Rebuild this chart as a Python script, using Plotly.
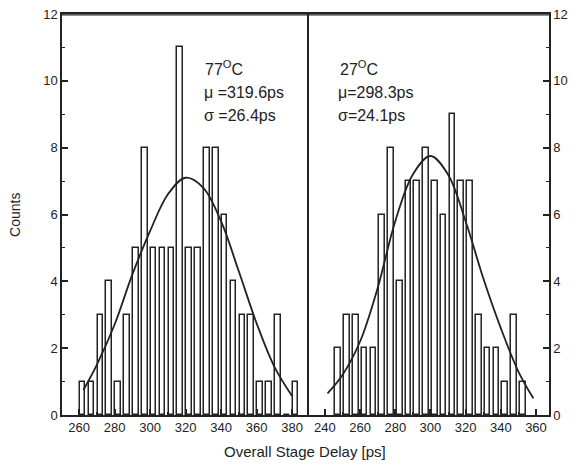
import plotly.graph_objects as go

# ---------------- data
# 77 C panel (left)
hot_bins = [262, 267, 272, 277, 282, 287, 292, 297, 302, 307, 312, 317, 322,
            327, 332, 337, 342, 347, 352, 357, 362, 367, 372, 377, 382]
hot_counts = [1, 1, 3, 4, 1, 3, 5, 8, 5, 5, 5, 11, 5,
              5, 8, 8, 6, 4, 3, 3, 1, 1, 3, 0, 1]
hot_fit_x = [262.5, 270, 280, 290, 300, 310, 320, 330, 340, 350, 360, 370, 380]
hot_fit_y = [0.75, 1.5, 2.7, 4.2, 5.5, 6.6, 7.1, 6.8, 5.8, 4.3, 2.75, 1.45, 0.57]

# 27 C panel (right)
room_bins = [247.5, 252.5, 257.5, 262.5, 267.5, 272.5, 277.5, 282.5, 287.5, 292.5, 297.5,
             302.5, 307.5, 312.5, 317.5, 322.5, 327.5, 332.5, 337.5, 342.5, 347.5, 352.5]
room_counts = [2, 3, 3, 2, 2, 6, 8, 4, 7, 7, 8,
               7, 6, 9, 7, 7, 3, 2, 2, 1, 3, 1]
room_fit_x = [241.5, 250, 260, 270, 280, 290, 300, 310, 320, 330, 340, 350, 358.5]
room_fit_y = [0.65, 1.2, 2.2, 3.8, 5.8, 7.2, 7.75, 7.2, 5.8, 4.1, 2.6, 1.3, 0.5]

y_ticks = [0, 2, 4, 6, 8, 10, 12]

FONT = "Liberation Sans, Arial, Helvetica, sans-serif"
INK = "#222222"

fig = go.Figure()

# ---------------- histograms
fig.add_trace(go.Bar(
    x=hot_bins, y=hot_counts, width=3.2,
    marker=dict(color='white', line=dict(color=INK, width=1.5)),
    xaxis='x', yaxis='y', showlegend=False
))
fig.add_trace(go.Bar(
    x=room_bins, y=room_counts, width=3.2,
    marker=dict(color='white', line=dict(color=INK, width=1.5)),
    xaxis='x2', yaxis='y2', showlegend=False
))

# ---------------- fitted curves
fig.add_trace(go.Scatter(
    x=hot_fit_x, y=hot_fit_y, mode='lines',
    line=dict(color=INK, width=1.8, shape='spline', smoothing=1.0),
    xaxis='x', yaxis='y', showlegend=False
))
fig.add_trace(go.Scatter(
    x=room_fit_x, y=room_fit_y, mode='lines',
    line=dict(color=INK, width=1.8, shape='spline', smoothing=1.0),
    xaxis='x2', yaxis='y2', showlegend=False
))

xa = dict(
    showline=True, linecolor=INK, linewidth=1.5, mirror=True,
    ticks='inside', ticklen=6, tickwidth=1.5, tickcolor=INK,
    dtick=20, tick0=0,
    minor=dict(ticks='inside', ticklen=3, tickwidth=1, tickcolor=INK, dtick=10),
    showgrid=False, zeroline=False, automargin=False,
    ticklabeloverflow='allow',
    tickfont=dict(family=FONT, size=13, color=INK),
)
ya = dict(
    range=[0, 12], tickvals=y_ticks,
    showline=True, linecolor=INK, linewidth=1.5,
    ticks='inside', ticklen=6, tickwidth=1.5, tickcolor=INK,
    minor=dict(ticks='inside', ticklen=3, tickwidth=1, tickcolor=INK, dtick=1),
    showgrid=False, zeroline=False, automargin=False,
    ticklabeloverflow='allow',
    tickfont=dict(family=FONT, size=13, color=INK),
)

# page body adds an 8px offset, so the figure is a bit smaller than the window
fig.update_layout(
    width=570, height=460,
    margin=dict(l=54, r=29, t=6, b=53),
    paper_bgcolor='white', plot_bgcolor='white',
    bargap=0,
    xaxis=dict(xa, domain=[0, 0.503], range=[250.4, 388.4]),
    xaxis2=dict(xa, domain=[0.503, 1], range=[229.8, 367.4]),
    yaxis=dict(ya, anchor='x', mirror=True),
    yaxis2=dict(ya, anchor='x2', side='right', mirror=False),
    font=dict(family=FONT, color=INK),
)

# top border of the frame
fig.add_shape(type='line', xref='paper', yref='paper', x0=0, x1=1, y0=0.998, y1=0.998,
              line=dict(color=INK, width=1.2))

# axis titles
fig.add_annotation(text='Overall Stage Delay [ps]', xref='paper', yref='paper',
                   x=0.499, y=-0.092, yanchor='middle', showarrow=False,
                   font=dict(family=FONT, size=15, color=INK))
fig.add_annotation(text='Counts', xref='paper', yref='paper', textangle=-90,
                   x=-0.0965, y=0.499, xanchor='center', yanchor='middle', showarrow=False,
                   font=dict(family=FONT, size=14, color=INK))

# panel labels
labels = [
    (0.2895, 0.865, '77<sup>O</sup>C'),
    (0.287, 0.805, '\u03bc =319.6ps'),
    (0.287, 0.748, '\u03c3 =26.4ps'),
    (0.566, 0.865, '27<sup>O</sup>C'),
    (0.5626, 0.805, '\u03bc=298.3ps'),
    (0.5626, 0.748, '\u03c3=24.1ps'),
]
for x, y, t in labels:
    fig.add_annotation(text=t, xref='paper', yref='paper', x=x, y=y,
                       xanchor='left', yanchor='middle', showarrow=False,
                       font=dict(family=FONT, size=16, color=INK))

fig.write_html("out.html")
